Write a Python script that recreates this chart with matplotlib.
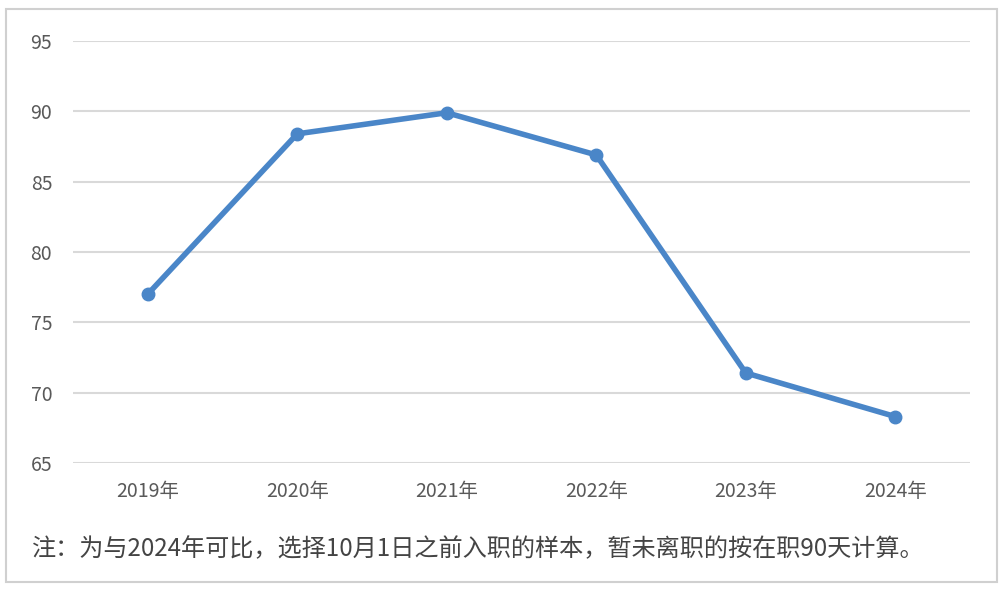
import matplotlib
matplotlib.use("Agg")
import matplotlib.pyplot as plt
from matplotlib.patches import Rectangle

plt.rcParams['font.family'] = ['Noto Sans CJK SC', 'DejaVu Sans']

years = ['2019年', '2020年', '2021年', '2022年', '2023年', '2024年']
values = [77.0, 88.4, 89.9, 86.9, 71.4, 68.3]
y_ticks = [65, 70, 75, 80, 85, 90, 95]
note = '注：为与2024年可比，选择10月1日之前入职的样本，暂未离职的按在职90天计算。'

fig = plt.figure(figsize=(10, 5.9), dpi=100)
ax = fig.add_axes([0.073, 0.2153, 0.897, 0.7152])

x = list(range(len(years)))
ax.plot(x, values, color='#4a86c8', linewidth=4, marker='o', markersize=9,
        solid_capstyle='round', zorder=3)

ax.set_xlim(-0.5, len(years) - 0.5)
ax.set_ylim(65, 95)
ax.set_yticks(y_ticks)
ax.set_xticks(x)
ax.set_xticklabels(years)
ax.grid(axis='y', color='#d9d9d9', linewidth=1.5)
ax.set_axisbelow(True)
for s in ax.spines.values():
    s.set_visible(False)
ax.tick_params(axis='both', length=0, labelsize=14, colors='#595959')
ax.tick_params(axis='y', pad=15)
ax.tick_params(axis='x', pad=13)

fig.text(0.032, 0.069, note, fontsize=17.4, color='#444444', va='center', ha='left')

# outer border
fig.patches.append(Rectangle((0.006, 0.013), 0.991, 0.972, transform=fig.transFigure,
                             fill=False, edgecolor='#d0d0d0', linewidth=1.5))

plt.savefig('out.png')
plt.close()
